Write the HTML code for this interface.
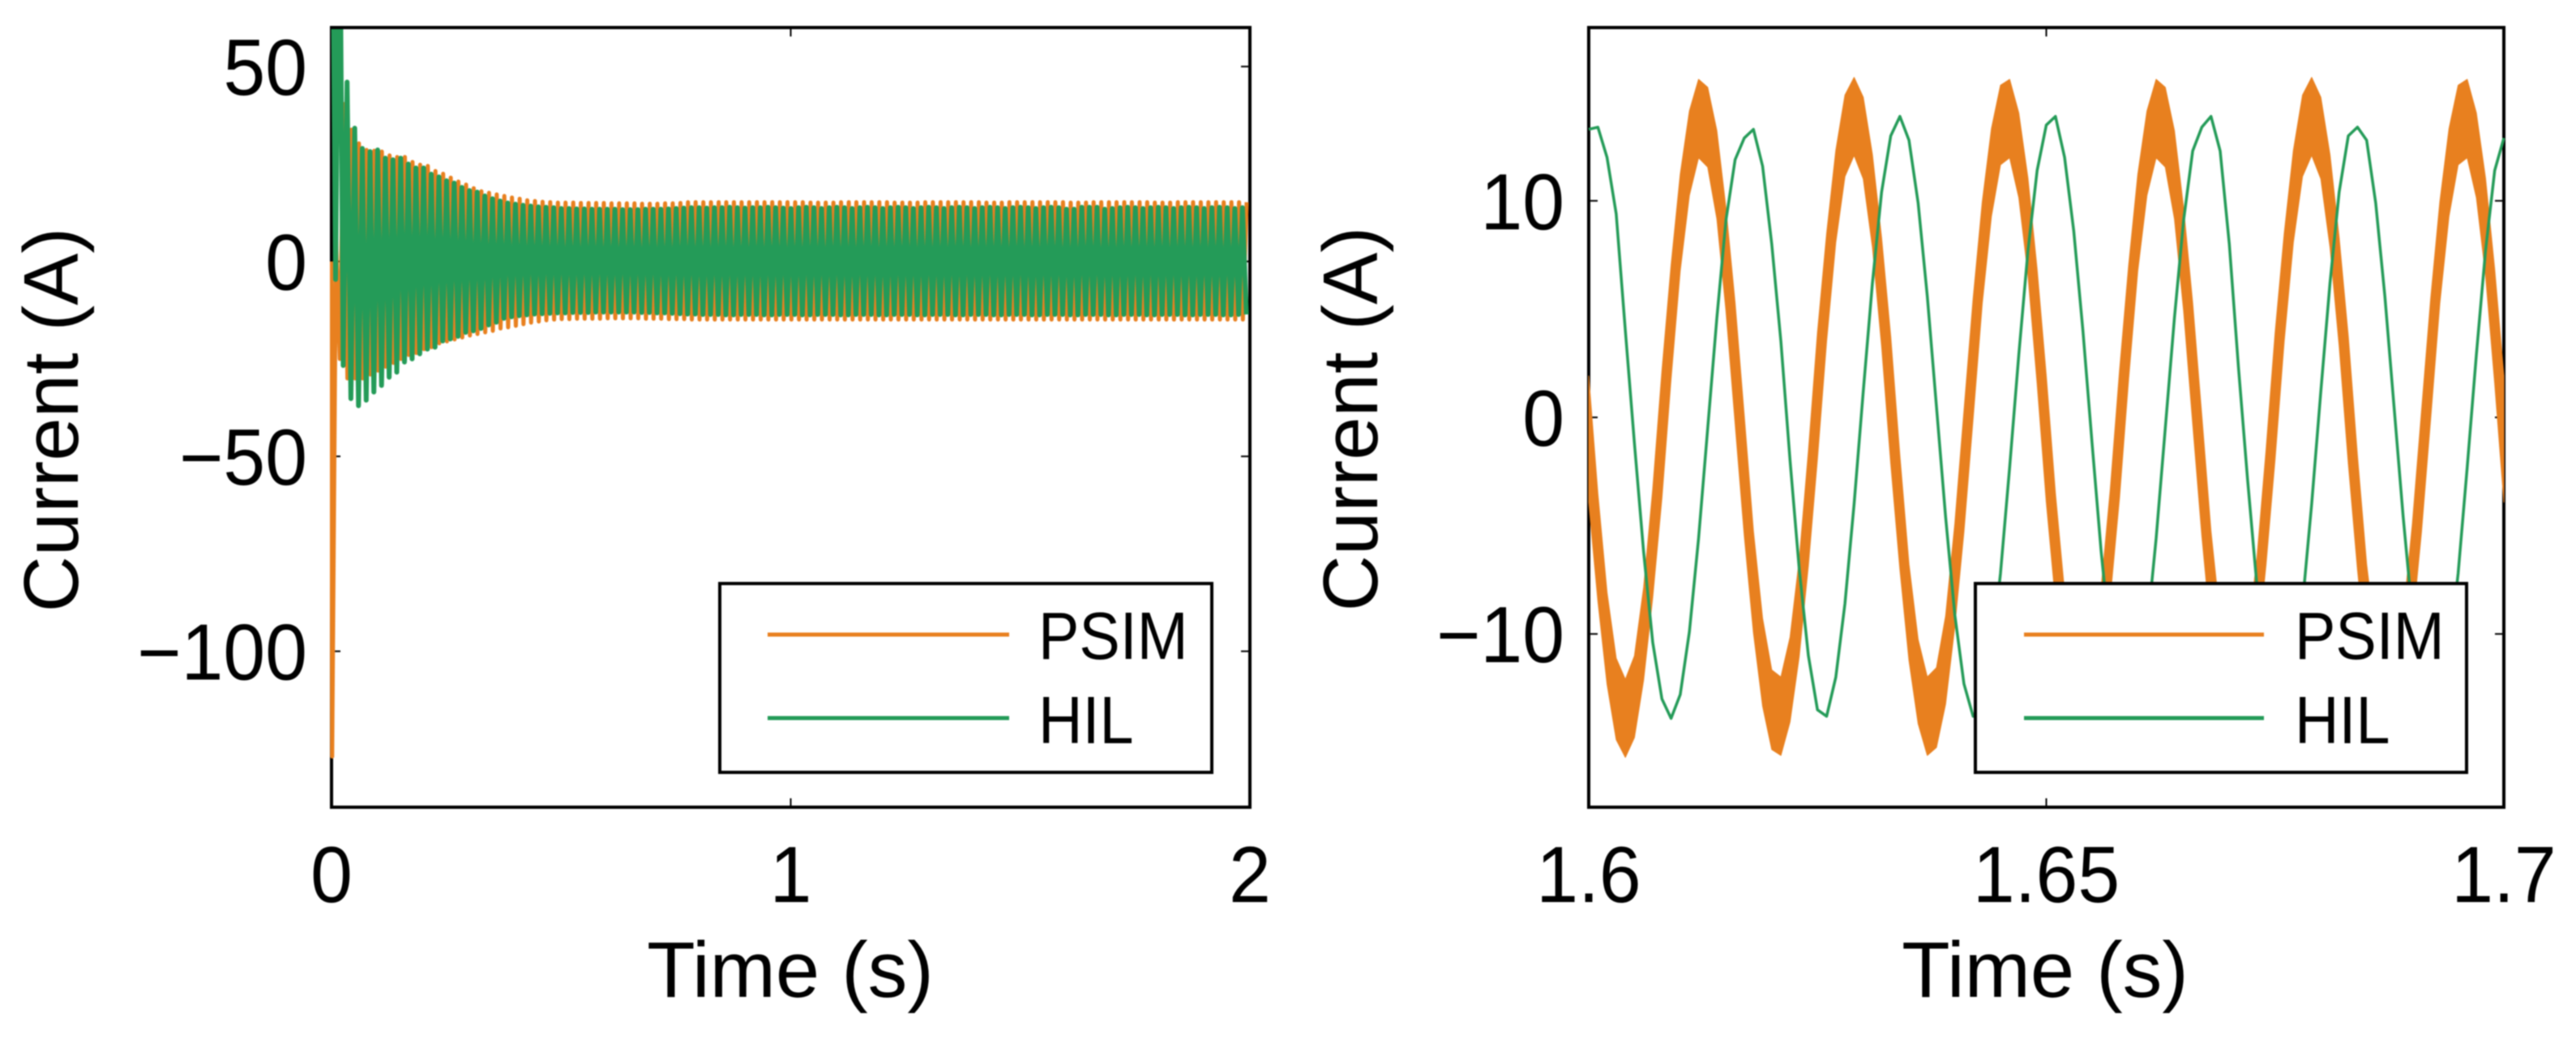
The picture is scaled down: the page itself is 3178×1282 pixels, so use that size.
<!DOCTYPE html>
<html>
<head>
<meta charset="utf-8">
<title>PSIM vs HIL current</title>
<style>
html,body{margin:0;padding:0;background:#fff;}
svg{display:block;width:3178px;height:1282px;filter:blur(0.7px);}
text{font-family:"Liberation Sans",sans-serif;fill:#000;}
</style>
</head>
<body>
<svg id="figure" xmlns="http://www.w3.org/2000/svg" width="3178" height="1282" viewBox="0 0 3178 1282">
  <rect x="0" y="0" width="3178" height="1282" fill="#fff"/>
  <defs>
    <clipPath id="clip-left"><rect x="407" y="36" width="1137" height="958"/></clipPath>
    <clipPath id="clip-right"><rect x="1958" y="36" width="1133" height="958"/></clipPath>
  </defs>
  <g id="panel-left"></g>
  <g id="panel-right"></g>

  <text transform="translate(96,518) rotate(-90)" text-anchor="middle" font-size="96">Current (A)</text>
  <text x="975" y="1230" text-anchor="middle" font-size="97.5">Time (s)</text>
  <text transform="translate(1699,517) rotate(-90)" text-anchor="middle" font-size="96">Current (A)</text>
  <text x="2523" y="1230" text-anchor="middle" font-size="97.5">Time (s)</text>

  <g>
    <rect x="888" y="720" width="607" height="233" fill="#fff" stroke="#000" stroke-width="4"/>
    <line x1="947" x2="1245" y1="783" y2="783" stroke="#E8801F" stroke-width="5"/>
    <text transform="translate(1281,813) scale(0.91,1)" font-size="83">PSIM</text>
    <line x1="947" x2="1245" y1="886" y2="886" stroke="#249B58" stroke-width="5"/>
    <text transform="translate(1281,917) scale(0.91,1)" font-size="83">HIL</text>
  </g>
  <g>
    <rect x="2437" y="720" width="606" height="233" fill="#fff" stroke="#000" stroke-width="4"/>
    <line x1="2497" x2="2793" y1="783" y2="783" stroke="#E8801F" stroke-width="5"/>
    <text transform="translate(2831,813) scale(0.91,1)" font-size="83">PSIM</text>
    <line x1="2497" x2="2793" y1="886" y2="886" stroke="#249B58" stroke-width="5"/>
    <text transform="translate(2831,917) scale(0.91,1)" font-size="83">HIL</text>
  </g>
</svg>
<script>
// ---- Left panel tick labels ----
const leftXTicks = [0, 1, 2];
const leftXTickLabels = ["0", "1", "2"];
const leftYTicks = [-100, -50, 0, 50];
const leftYTickLabels = ["\u2212100", "\u221250", "0", "50"];

// ---- Right panel tick labels ----
const rightXTicks = [1.6, 1.65, 1.7];
const rightXTickLabels = ["1.6", "1.65", "1.7"];
const rightYTicks = [-10, 0, 10];
const rightYTickLabels = ["\u221210", "0", "10"];

// ---- Left panel: positive and negative peak of each 60 Hz cycle (A) ----
const psimHighs = [6,40.4,33.8,30.3,28.6,28.4,28.2,27.2,26.8,26.8,25.5,24.8,24.5,23.2,22.5,21.5,20.5,19.7,18.8,18,17.6,17.2,16.8,16.4,16.1,15.7,15.5,15.3,15.2,15.1,
15.1,15.1,15,15,15,15,14.9,14.9,14.9,14.9,14.8,14.8,14.8,14.9,14.9,15,15.2,15.2,15.2,15.2,15.2,15.2,15.2,15.2,15.2,15.2,15.2,15.2,15.2,15.2,
15.2,15.2,15.1,15.1,15.1,15.1,15.2,15.2,15.2,15.2,15.2,15.2,15.2,15.1,15.1,15.1,15.1,15.2,15.2,15.2,15.2,15.2,15.2,15.2,15.2,15.1,15.1,15.1,15.2,15.2,
15.2,15.2,15.2,15.2,15.2,15.2,15.1,15.1,15.1,15.2,15.2,15.2,15.2,15.2,15.2,15.2,15.2,15.1,15.1,15.1,15.2,15.2,15.2,15.2,15.2,15.2,15.2,15.2,15.2,15.2];
const psimLows = [-127,-25,-30,-30,-30,-29,-28,-27,-26,-25,-24,-23.5,-22.5,-22,-21,-20.5,-20,-19.5,-19,-18.6,-18.2,-17.8,-17.2,-16.9,-16.5,-16.1,-15.7,-15.4,-15.1,-14.9,
-14.8,-14.8,-14.7,-14.7,-14.7,-14.7,-14.6,-14.6,-14.6,-14.6,-14.6,-14.7,-14.7,-14.7,-14.8,-14.8,-14.8,-14.9,-14.9,-14.9,-14.9,-14.9,-14.9,-14.9,-14.9,-14.9,-14.9,-14.9,-14.9,-14.9,
-14.9,-14.9,-14.9,-14.9,-14.9,-14.9,-14.9,-14.9,-14.9,-14.9,-14.9,-14.9,-14.9,-14.9,-14.9,-14.9,-14.9,-14.9,-14.9,-14.9,-14.9,-14.9,-14.9,-14.9,-14.9,-14.9,-14.9,-14.9,-14.9,-14.9,
-14.9,-14.9,-14.9,-14.9,-14.9,-14.9,-14.9,-14.9,-14.9,-14.9,-14.9,-14.9,-14.9,-14.9,-14.9,-14.9,-14.9,-14.9,-14.9,-14.9,-14.9,-14.9,-14.9,-14.9,-14.9,-14.9,-14.9,-14.9,-14.9,-14.9];
const hilHighs = [120,110,46,34.2,29,28.2,28.6,26.5,26.1,26.5,25,24,24,22.4,21.7,20.7,20.1,19,18.2,17.8,16.8,16.1,15.5,15,14.7,14.4,14.2,14,13.9,13.8,
13.6,13.6,13.5,13.5,13.4,13.4,13.4,13.4,13.3,13.3,13.3,13.4,13.4,13.4,13.5,13.6,13.7,13.8,13.8,13.7,13.8,13.8,13.9,13.8,13.7,13.8,13.8,13.9,13.8,13.7,
13.6,13.8,13.9,13.8,13.6,13.8,13.9,13.8,13.6,13.8,13.9,13.8,13.6,13.8,13.9,13.8,13.6,13.8,13.9,13.8,13.6,13.8,13.9,13.8,13.6,13.8,13.9,13.8,13.6,13.8,
13.9,13.8,13.6,13.8,13.9,13.8,13.4,13.4,13.9,13.9,13.9,13.4,13.6,13.8,13.9,13.8,13.6,13.8,13.9,13.8,13.6,13.8,13.9,13.8,13.6,13.8,13.9,13.8,13.6,13.8];
const hilLows = [-4.6,-26.7,-35.2,-37,-35.6,-33.5,-31.8,-29.7,-28.4,-25.8,-25,-23.7,-22.5,-22,-20.4,-19.9,-19.2,-18.2,-17.8,-17.2,-16.3,-15.6,-14.6,-14.2,-13.9,-13.7,-13.5,-13.4,-13.3,-13.2,
-13.2,-13.1,-13.1,-13.1,-13,-13,-13,-13,-13,-13,-13.1,-13.1,-13.2,-13.2,-13.3,-13.4,-13.5,-13.5,-13.6,-13.6,-13.6,-13.7,-13.7,-13.6,-13.6,-13.6,-13.7,-13.7,-13.6,-13.6,
-13.6,-13.7,-13.7,-13.6,-13.6,-13.6,-13.7,-13.7,-13.6,-13.6,-13.6,-13.7,-13.7,-13.6,-13.6,-13.6,-13.7,-13.7,-13.6,-13.6,-13.6,-13.7,-13.7,-13.6,-13.6,-13.6,-13.7,-13.7,-13.6,-13.6,
-13.6,-13.7,-13.7,-13.6,-13.6,-13.6,-13.7,-13.7,-13.6,-13.6,-13.6,-13.7,-13.7,-13.6,-13.6,-13.6,-13.7,-13.7,-13.6,-13.6,-13.6,-13.7,-13.7,-13.6,-13.6,-13.6,-13.7,-13.7,-13.6,-13.6];

// ---- Right panel: current per 1 ms sample from 1.600 s to 1.700 s (A) ----
const psimZoom = [-1,-6,-10.2,-13,-13.9,-12.9,-10,-5.8,-0.8,4.4,9,12.2,13.8,13.4,11.2,7.3,2.5,-2.7,-7.6,-11.3,-13.5,-13.8,-12.1,-8.8,-4.2,1,6,10.2,13,13.9,12.9,10,5.8,0.8,-4.4,-9,-12.2,-13.8,-13.4,-11.2,-7.3,-2.5,2.7,7.6,11.3,13.5,13.8,12.1,8.8,4.2,
-1,-6,-10.2,-13,-13.9,-12.9,-10,-5.8,-0.8,4.4,9,12.2,13.8,13.4,11.2,7.3,2.5,-2.7,-7.6,-11.3,-13.5,-13.8,-12.1,-8.8,-4.2,1,6,10.2,13,13.9,12.9,10,5.8,0.8,-4.4,-9,-12.2,-13.8,-13.4,-11.2,-7.3,-2.5,2.7,7.6,11.3,13.5,13.8,12.1,8.8,4.2,-1];
const hilZoom = [13.3,13.4,12,9.4,4,-1.2,-6.2,-10.4,-13,-13.9,-12.8,-9.9,-5.6,-0.5,4.6,9.1,11.9,12.9,13.3,11.6,8,3.5,-2,-7,-11,-13.5,-13.8,-12,-8.6,-4,1.2,6.2,10.4,13,13.9,12.8,9.9,5.6,0.5,-4.6,-9.1,-12.3,-13.8,-13.4,-11,-7.2,-2.3,2.9,7.7,11.4,
13.5,13.9,12,8.6,4,-1.2,-6.2,-10.4,-13,-13.9,-12.8,-9.9,-5.6,-0.5,4.6,9.1,12.3,13.4,13.9,12.3,8,2.3,-2.9,-7.7,-11.4,-13.5,-13.8,-12,-8.6,-4,1.2,6.2,10.4,13,13.4,12.8,9.9,5.6,0.5,-4.6,-9.1,-12.3,-13.8,-13.4,-11,-7.2,-2.3,2.9,7.7,11.4,12.9];

const zoomStart = 1.6;
const zoomStep = 0.001;
const gridFrequency = 60;
const psimPhase = 0.58;
const hilPhase = 0.03;

const NS = "http://www.w3.org/2000/svg";
const ORANGE = "#E8801F";
const GREEN = "#249B58";

function make(parent, tag, attrs) {
  const el = document.createElementNS(NS, tag);
  for (const k in attrs) el.setAttribute(k, attrs[k]);
  parent.appendChild(el);
  return el;
}

function linear(d0, d1, r0, r1) {
  return v => r0 + (v - d0) * (r1 - r0) / (d1 - d0);
}

function drawFrame(parent, box, xAxis, yAxis, xTicks, xLabels, yTicks, yLabels, prefix) {
  const frame = make(parent, "rect", {x: box.left, y: box.top, width: box.right - box.left, height: box.bottom - box.top, fill: "#fff", stroke: "#000", "stroke-width": 4});
  
  
  const tickLen = 11;
  xTicks.forEach((t, i) => {
    const x = xAxis(t);
    const top = make(parent, "line", {x1: x, x2: x, y1: box.top, y2: box.top + tickLen, stroke: "#000", "stroke-width": 2});
    
    
    const bottom = make(parent, "line", {x1: x, x2: x, y1: box.bottom, y2: box.bottom - tickLen, stroke: "#000", "stroke-width": 2});
    
    
    const label = make(parent, "text", {transform: "translate(" + x + ",1113) scale(0.95,1)", "text-anchor": "middle", "font-size": 98});
    
    
    label.textContent = xLabels[i];
  });
  yTicks.forEach((v, i) => {
    const y = yAxis(v);
    const lft = make(parent, "line", {x1: box.left, x2: box.left + tickLen, y1: y, y2: y, stroke: "#000", "stroke-width": 2});
    
    
    const rgt = make(parent, "line", {x1: box.right, x2: box.right - tickLen, y1: y, y2: y, stroke: "#000", "stroke-width": 2});
    
    
    const label = make(parent, "text", {transform: "translate(" + (box.left - 30) + "," + (y + 35) + ") scale(0.95,1)", "text-anchor": "end", "font-size": 98});
    
    
    label.textContent = yLabels[i];
  });
}

// ---- Left panel ----
const leftBox = {left: 409, right: 1542, top: 34, bottom: 996};
const leftX = linear(0, 2, leftBox.left, leftBox.right);
const leftY = linear(-140, 60, leftBox.bottom, leftBox.top);
const panelLeft = document.getElementById("panel-left");
drawFrame(panelLeft, leftBox, leftX, leftY, leftXTicks, leftXTickLabels, leftYTicks, leftYTickLabels, "left");

function envelopePath(highs, lows, phase, startAtZero) {
  const pts = [];
  if (startAtZero) pts.push([0, 0]);
  const lowFirst = phase > 0.5;
  highs.forEach((h, i) => {
    const tHigh = (i + phase) / gridFrequency;
    const tLow = (i + phase + (lowFirst ? -0.5 : 0.5)) / gridFrequency;
    if (lowFirst) {
      pts.push([tLow, lows[i]]);
      pts.push([tHigh, h]);
    } else {
      pts.push([tHigh, h]);
      pts.push([tLow, lows[i]]);
    }
  });
  return pts.map(p => leftX(p[0]).toFixed(1) + "," + leftY(p[1]).toFixed(1)).join(" ");
}

const leftSeries = make(panelLeft, "g", {"clip-path": "url(#clip-left)"});


const leftPsim = make(leftSeries, "polyline", {points: envelopePath(psimHighs, psimLows, psimPhase, true), fill: "none", stroke: ORANGE, "stroke-width": 5, "stroke-linejoin": "round"});


const leftHil = make(leftSeries, "polyline", {points: envelopePath(hilHighs, hilLows, hilPhase, false), fill: "none", stroke: GREEN, "stroke-width": 6, "stroke-linejoin": "round"});



// ---- Right panel ----
const rightBox = {left: 1960, right: 3089, top: 34, bottom: 996};
const rightX = linear(1.6, 1.7, rightBox.left, rightBox.right);
const rightY = linear(-18, 18, rightBox.bottom, rightBox.top);
const panelRight = document.getElementById("panel-right");
drawFrame(panelRight, rightBox, rightX, rightY, rightXTicks, rightXTickLabels, rightYTicks, rightYTickLabels, "right");

const sampleTime = i => zoomStart + i * zoomStep;
// Switching ripple half-height: about 3 A on the flanks, 1.8 A at the peaks.
const rippleAt = v => 3.0 - 1.2 * Math.abs(v) / 13.9;

const upperPts = psimZoom.map((v, i) => rightX(sampleTime(i)).toFixed(1) + "," + rightY(v + rippleAt(v)).toFixed(1));
const lowerPts = psimZoom.map((v, i) => rightX(sampleTime(i)).toFixed(1) + "," + rightY(v - rippleAt(v)).toFixed(1)).reverse();

const rightSeries = make(panelRight, "g", {"clip-path": "url(#clip-right)"});


const rightPsim = make(rightSeries, "polygon", {points: upperPts.concat(lowerPts).join(" "), fill: ORANGE, stroke: ORANGE, "stroke-width": 1, "stroke-linejoin": "round"});


const rightHil = make(rightSeries, "polyline", {points: hilZoom.map((v, i) => rightX(sampleTime(i)).toFixed(1) + "," + rightY(v).toFixed(1)).join(" "), fill: "none", stroke: GREEN, "stroke-width": 3.5, "stroke-linejoin": "round"});


</script>
</body>
</html>
